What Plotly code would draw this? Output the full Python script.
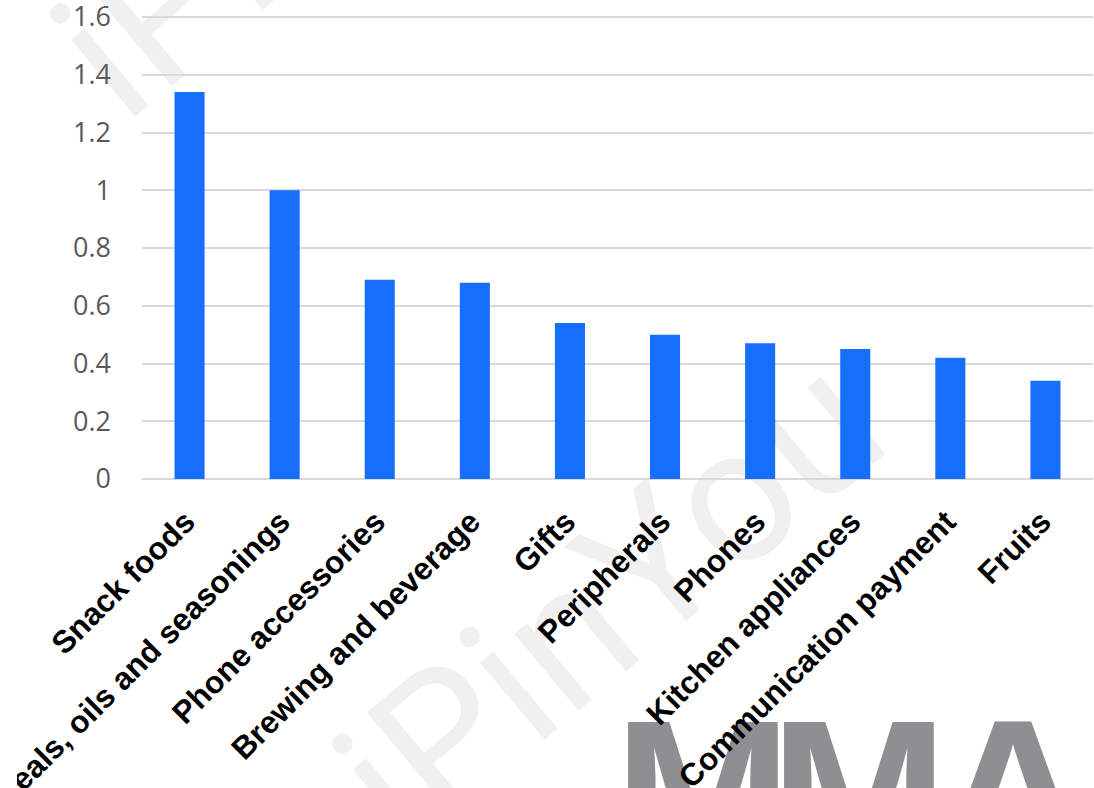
import plotly.graph_objects as go

# Category shares (percent of orders)
categories = [
    "Snack foods",
    "Cereals, oils and seasonings",
    "Phone accessories",
    "Brewing and beverage",
    "Gifts",
    "Peripherals",
    "Phones",
    "Kitchen appliances",
    "Communication payment",
    "Fruits",
]
values = [1.34, 1.0, 0.69, 0.68, 0.54, 0.50, 0.47, 0.45, 0.42, 0.34]
y_ticks = [0, 0.2, 0.4, 0.6, 0.8, 1, 1.2, 1.4, 1.6]
y_tick_text = ["0", "0.2", "0.4", "0.6", "0.8", "1", "1.2", "1.4", "1.6"]

W, H = 1094, 788
ML, MR, MT, MB = 142, 1, 11, 309
PW, PH = W - ML - MR, H - MT - MB
Y_TOP = 1.6 * PH / 462  # keeps 0..1.6 over 462 px with a little headroom

# rotated category labels: small horizontal nudge relative to bar centres
LABEL_SHIFT = 0.04


def px_to_paper(px, py):
    return (px - ML) / PW, (H - MB - py) / PH


def text_stamp(cx, cy, text, size, color, angle=0, family="Roboto", weight="normal"):
    """Invisible rectangle carrying a centred text label, drawn under the plot."""
    x0, y0 = px_to_paper(cx - 2, cy + 2)
    x1, y1 = px_to_paper(cx + 2, cy - 2)
    return dict(
        type="rect", xref="paper", yref="paper",
        x0=x0, x1=x1, y0=y0, y1=y1,
        line=dict(width=0), fillcolor="rgba(0,0,0,0)",
        layer="below",
        label=dict(
            text=text, textposition="middle center", textangle=angle,
            padding=0,
            font=dict(family=family, size=size, color=color, weight=weight),
        ),
    )


# left edge of the chart area: labels running past it are cut off
mx0, my0 = px_to_paper(0, H)
mx1, my1 = px_to_paper(17, 640)
edge_mask = dict(
    type="rect", xref="paper", yref="paper",
    x0=mx0, x1=mx1, y0=my0, y1=my1,
    line=dict(width=0), fillcolor="white", layer="above",
)

shapes = [
    # faint diagonal watermark
    text_stamp(600, 590, "iPinYou", 190, "#f0f0f0", angle=-40),
    text_stamp(318, -140, "iPinYou", 190, "#f0f0f0", angle=-40),
    # logo letters
    text_stamp(703, 774, "M", 214, "#8f8f91", family="Liberation Sans", weight="bold"),
    text_stamp(859, 774, "M", 214, "#8f8f91", family="Liberation Sans", weight="bold"),
    text_stamp(1013, 774, "A", 214, "#8f8f91", family="Liberation Sans", weight="bold"),
    edge_mask,
]

fig = go.Figure()
fig.add_trace(
    go.Bar(
        x=categories,
        y=values,
        marker=dict(color="#166FFA", line=dict(width=0)),
        hoverinfo="x+y",
    )
)
# carrier for the label axis (nothing visible)
fig.add_trace(
    go.Scatter(
        x=list(range(len(categories))),
        y=[0] * len(categories),
        xaxis="x2",
        mode="markers",
        marker=dict(size=1, opacity=0),
        hoverinfo="skip",
    )
)

fig.update_layout(
    width=W,
    height=H,
    autosize=False,
    margin=dict(l=ML, r=MR, t=MT, b=MB, pad=0),
    paper_bgcolor="white",
    plot_bgcolor="rgba(0,0,0,0)",
    bargap=0.684,
    showlegend=False,
    shapes=shapes,
    xaxis=dict(
        type="category",
        showgrid=False,
        showline=False,
        zeroline=False,
        ticks="",
        showticklabels=False,
        automargin=False,
    ),
    # label axis: same scale as the category axis
    xaxis2=dict(
        overlaying="x",
        anchor="y",
        side="bottom",
        type="linear",
        range=[-0.5 + LABEL_SHIFT, len(categories) - 0.5 + LABEL_SHIFT],
        tickvals=list(range(len(categories))),
        ticktext=categories,
        showgrid=False,
        showline=False,
        zeroline=False,
        ticks="",
        tickangle=-45,
        ticklabelstandoff=17,
        ticklabeloverflow="allow",
        tickfont=dict(family="Liberation Sans", size=31.5, color="black", weight="bold"),
        automargin=False,
    ),
    yaxis=dict(
        range=[0, Y_TOP],
        tickvals=y_ticks,
        ticktext=y_tick_text,
        showgrid=True,
        gridcolor="#d9d9d9",
        gridwidth=1.5,
        zeroline=True,
        zerolinecolor="#d9d9d9",
        zerolinewidth=1.5,
        showline=False,
        ticks="",
        ticklabelstandoff=30,
        ticklabeloverflow="allow",
        tickfont=dict(family="Open Sans", size=27, color="#595959"),
        automargin=False,
    ),
)

fig.write_html("out.html")
